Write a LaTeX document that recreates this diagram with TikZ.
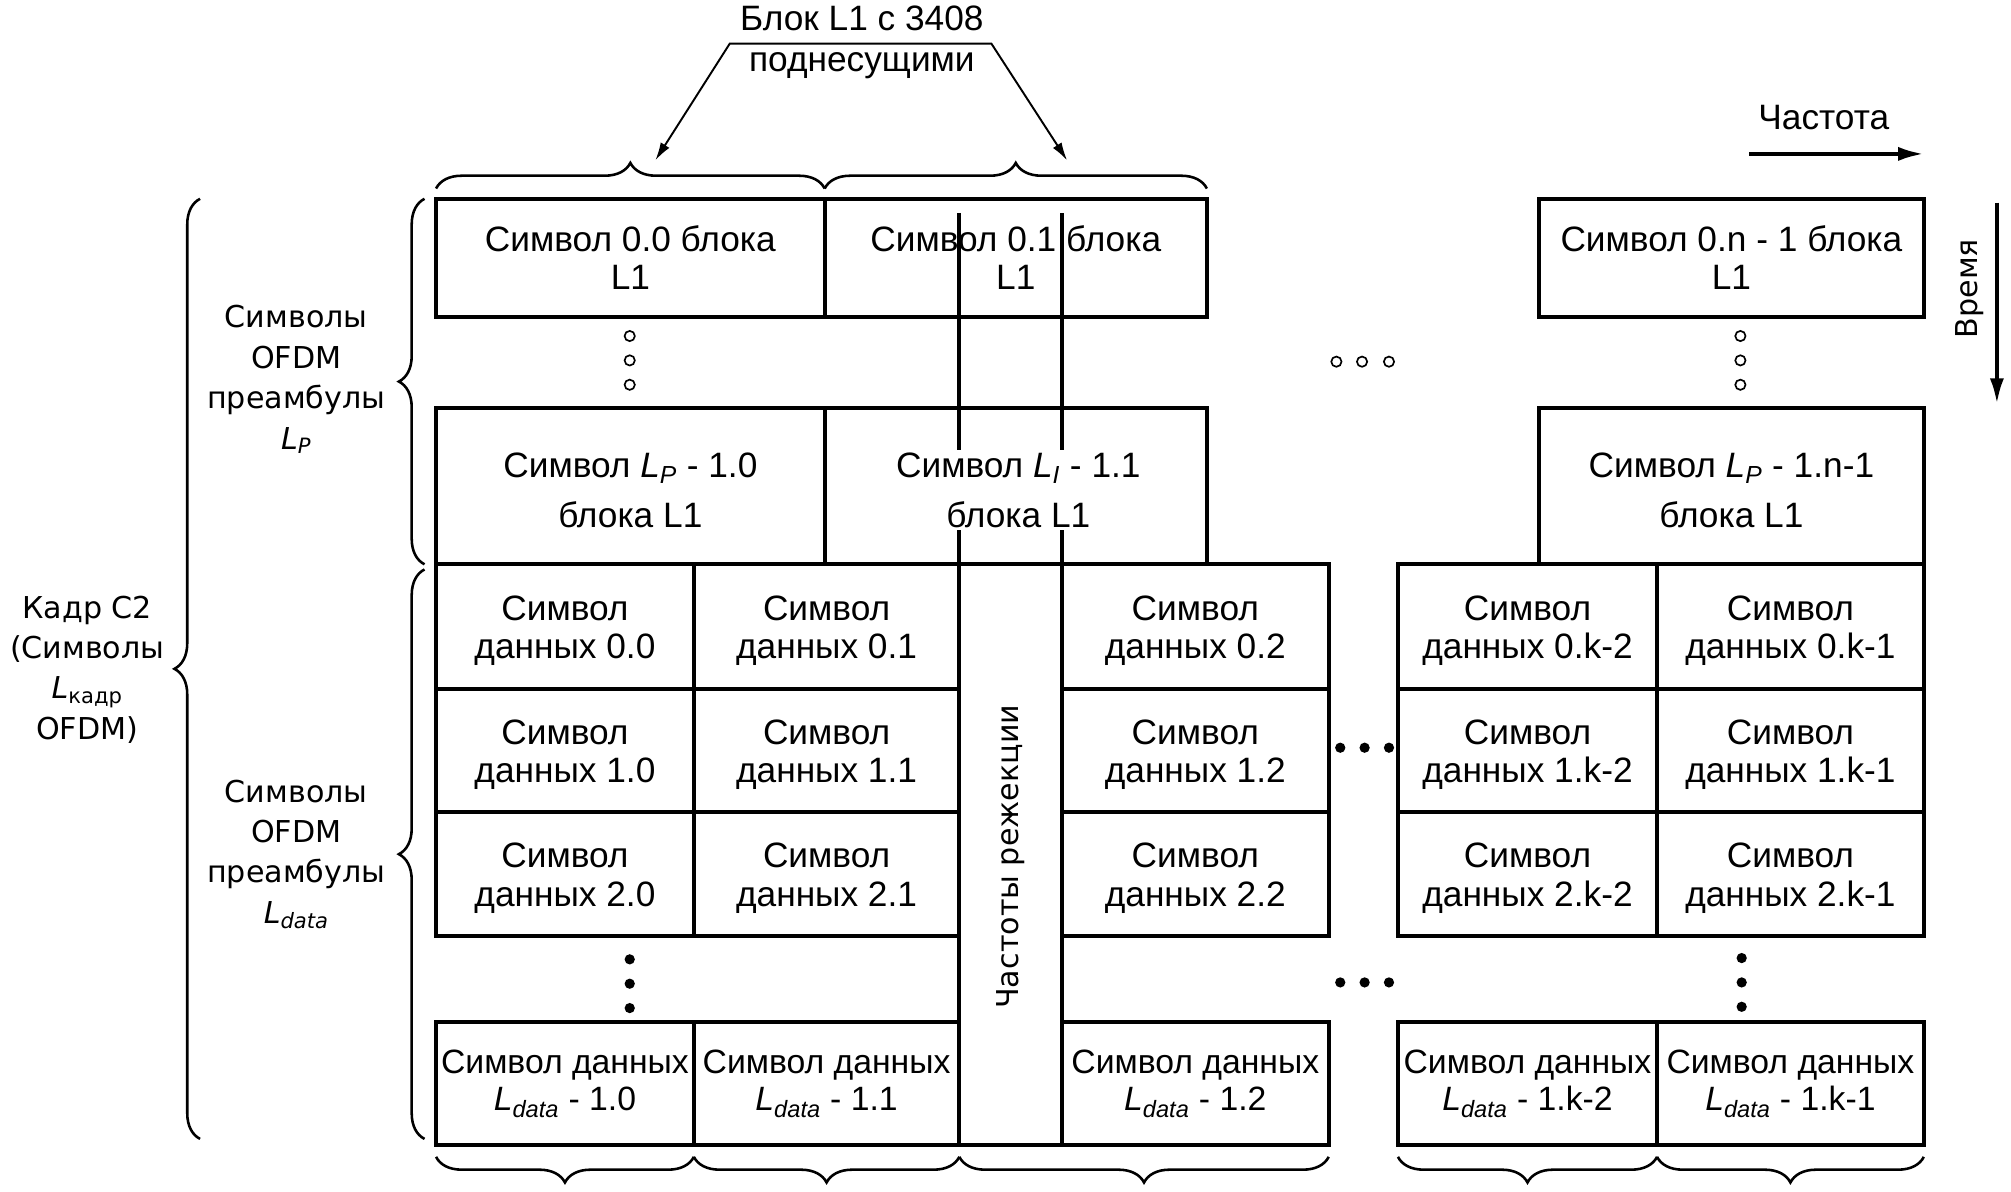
\documentclass[tikz,border=0pt]{standalone}
\usepackage{fontspec}
\setmainfont{Liberation Sans}
\newfontfamily\widefont{DejaVu Sans}
\usetikzlibrary{decorations.pathreplacing,arrows.meta}
\newcommand\boxfont{\fontsize{27.5pt}{30pt}\selectfont}
\newcommand\tallfont{\fontsize{27.5pt}{39pt}\selectfont}
\newcommand\lastfont{\fontsize{26.3pt}{29pt}\selectfont}
\newcommand\lblfont{\widefont\fontsize{23.5pt}{31.5pt}\selectfont}
\newcommand\Ldat{\textit{L}\textsubscript{\textit{data}}}
\newcommand\LP{\textit{L}\textsubscript{\textit{P}}}
\newcommand\dn{\rule{0pt}{26pt}}
\newcommand\mkcell[7][]{\node[cellbox,minimum width={(#5)-(#3)},minimum height={(#6)-(#4)},#1] (#2) at ({((#3)+(#5))/2},{((#4)+(#6))/2}) {#7};}
\begin{document}
\begin{tikzpicture}[x=1pt,y=-1pt,
  cellbox/.style={draw,line width=3pt,inner sep=0pt,align=center,font=\boxfont},
  tallbox/.style={font=\tallfont},
  lastbox/.style={font=\lastfont},
  curly/.style={decorate,decoration={brace,amplitude=20pt},line width=2pt},
  lbl/.style={align=center,font=\lblfont,inner sep=0pt},
  plain/.style={align=center,font=\boxfont,inner sep=0pt},
  hdot/.style={circle,draw,line width=1.3pt,minimum size=8pt,inner sep=0pt},
  fdot/.style={circle,fill,minimum size=8pt,inner sep=0pt},
  bigarrow/.style={line width=3pt,-{Latex[length=20pt,width=11pt]}},
  thinarrow/.style={line width=1.5pt,{Latex[length=14pt,width=8pt]}-{Latex[length=14pt,width=8pt]}}
]
\path[fill=white] (0,0) rectangle (1568,929);
\useasboundingbox (0,0) rectangle (1568,929);

% top label with arrows
\node[plain,font=\fontsize{27.5pt}{32pt}\selectfont] (blk) at (672,33) {Блок L1 с 3408\\поднесущими};
\coordinate (aL) at (569,34);
\coordinate (aR) at (773,34);
\coordinate (t1) at (511,125);
\coordinate (t2) at (832,125);
\draw[thinarrow] (t1) -- (aL) -- (aR) -- (t2);

% frequency / time
\node[plain] (freq) at (1422,92) {Частота};
\coordinate (f1) at (1364,120);
\coordinate (f2) at (1500,120);
\draw[bigarrow] (f1) -- (f2);
\node[lbl,rotate=90] (time) at (1536,225) {Время};
\coordinate (v1) at (1557,158);
\coordinate (v2) at (1557,315);
\draw[bigarrow] (v1) -- (v2);

% preamble boxes
\mkcell{p00}{340}{155}{643}{247}{Символ 0.0 блока\\L1}
\mkcell{p01}{643}{155}{941}{247}{Символ 0.1 блока\\L1}
\mkcell{p0n}{1200}{155}{1500}{247}{Символ 0.n - 1 блока\\L1}
\mkcell[tallbox]{p10}{340}{318}{643}{440}{\dn Символ \LP{} - 1.0\\блока L1}
\mkcell[tallbox]{p11}{643}{318}{941}{440}{}
\mkcell[tallbox]{p1n}{1200}{318}{1500}{440}{\dn Символ \LP{} - 1.n-1\\блока L1}

% data rows
\foreach \r/\ya/\yb in {0/440/537,1/537/633,2/633/730}{
  \foreach \c/\xa/\xb [count=\j] in {0/340/541,1/541/748,2/828/1036,k-2/1090/1292,k-1/1292/1500}{
    \mkcell{d\r\j}{\xa}{\ya}{\xb}{\yb}{\dn Символ\\данных \r.\c}
  }
}
\foreach \c/\xa/\xb [count=\j] in {0/340/541,1/541/748,2/828/1036,k-2/1090/1292,k-1/1292/1500}{
  \mkcell[lastbox]{e\j}{\xa}{797}{\xb}{893}{Символ данных\\\Ldat{} - 1.\c}
}

% notch band
\draw[line width=3pt] (748,166) -- (748,893) -- (828,893) -- (828,166);
\node[plain,font=\tallfont,fill=white,inner sep=2pt] (p11t) at (794,382) {Символ \textit{L}\textsubscript{\textit{I}} - 1.1\\блока L1};
\node[lbl,rotate=90] (notch) at (788,668) {Частоты режекции};

% dots
\foreach \y [count=\i] in {262,281,300} \node[hdot] (ha\i) at (491,\y) {};
\foreach \y [count=\i] in {262,281,300} \node[hdot] (hb\i) at (1357,\y) {};
\foreach \x [count=\i] in {1042,1062,1083} \node[hdot] (hc\i) at (\x,282) {};
\foreach \y [count=\i] in {748,767,786} \node[fdot] (fa\i) at (491,\y) {};
\foreach \y [count=\i] in {747,766,785} \node[fdot] (fb\i) at (1358,\y) {};
\foreach \x [count=\i] in {1045,1064,1083} \node[fdot] (fc\i) at (\x,583) {};
\foreach \x [count=\i] in {1045,1064,1083} \node[fdot] (fd\i) at (\x,766) {};

% top braces
\draw[curly] (340,147) -- (643,147);
\draw[curly] (643,147) -- (941,147);
% bottom braces
\draw[curly] (541,902) -- (340,902);
\draw[curly] (748,902) -- (541,902);
\draw[curly] (1036,902) -- (748,902);
\draw[curly] (1292,902) -- (1090,902);
\draw[curly] (1500,902) -- (1292,902);
% left braces
\draw[curly] (156,888) -- (156,155);
\draw[curly] (331,440) -- (331,155);
\draw[curly] (331,888) -- (331,444);

% left labels
\node[lbl] (kadr) at (68,522) {Кадр C2\\(Символы\\\textit{L}\textsubscript{кадр}\\OFDM)};
\node[lbl] (pre) at (231,296) {Символы\\OFDM\\преамбулы\\\LP};
\node[lbl] (dat) at (231,666) {Символы\\OFDM\\преамбулы\\\Ldat};
\end{tikzpicture}
\end{document}
